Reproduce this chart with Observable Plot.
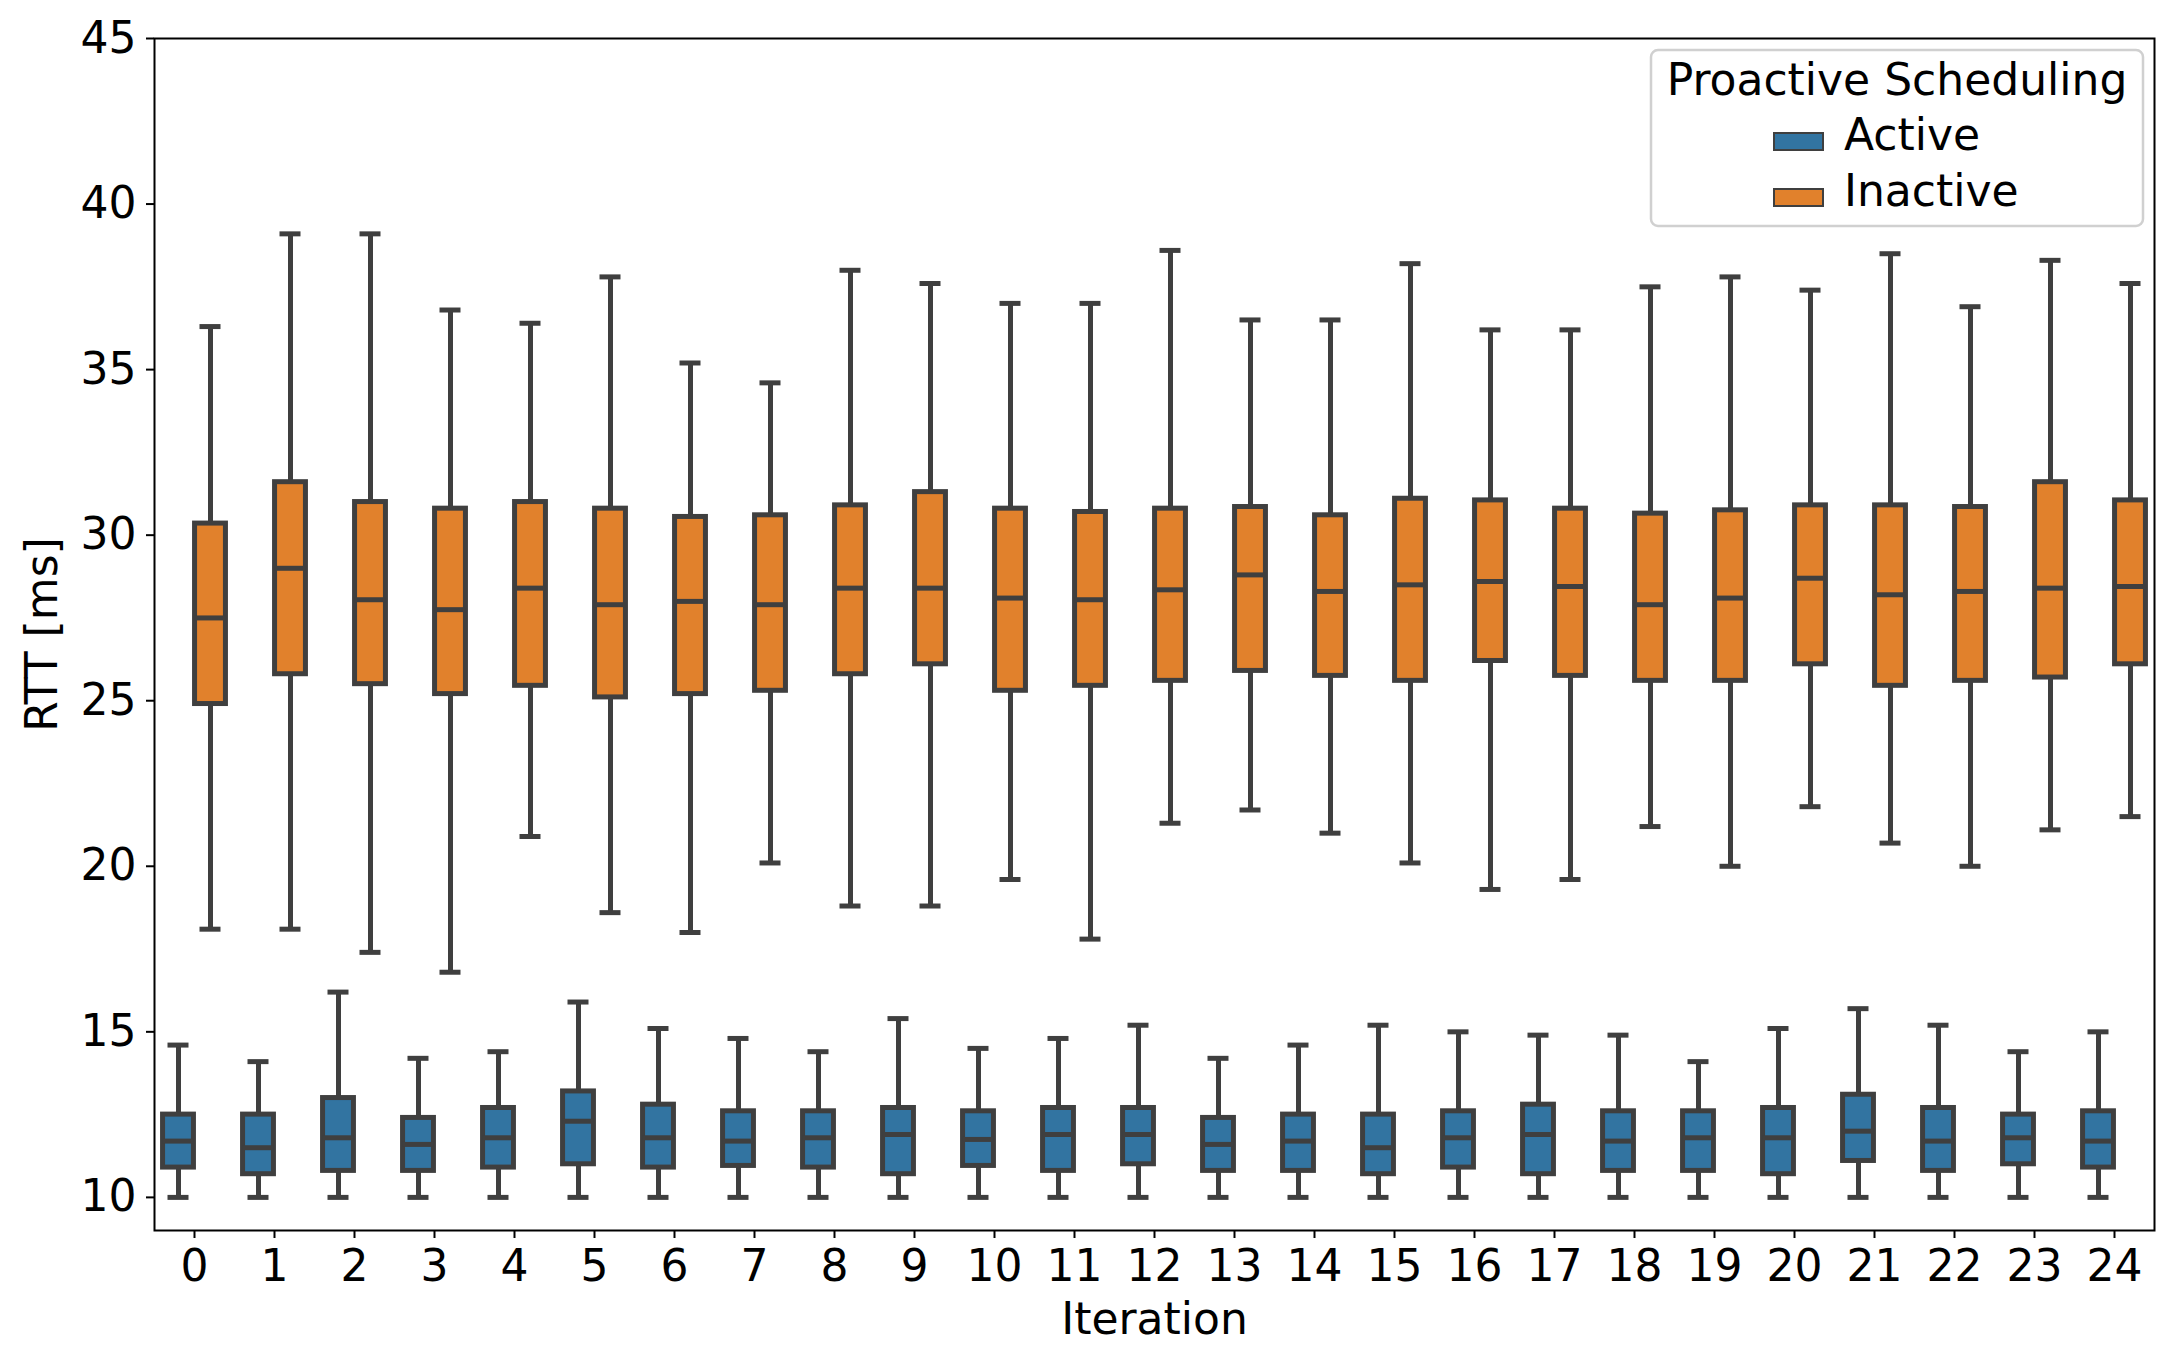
<!DOCTYPE html>
<html>
<head>
<meta charset="utf-8">
<script src="https://cdn.jsdelivr.net/npm/d3@7"></script>
<script src="https://cdn.jsdelivr.net/npm/@observablehq/plot@0.6"></script>
<style>
  html, body { margin: 0; padding: 0; background: #fff; }
  #chart { position: relative; width: 2174px; height: 1361px; }
</style>
</head>
<body>
<div id="chart"></div>
<script>
// ---- data ----
const iterations = [0,1,2,3,4,5,6,7,8,9,10,11,12,13,14,15,16,17,18,19,20,21,22,23,24];
const statuses = ["Active", "Inactive"];

const activeHi  = [14.6,14.1,16.2,14.2,14.4,15.9,15.1,14.8,14.4,15.4,14.5,14.8,15.2,14.2,14.6,15.2,15.0,14.9,14.9,14.1,15.1,15.7,15.2,14.4,15.0];
const activeQ3  = [12.5,12.5,13.0,12.4,12.7,13.2,12.8,12.6,12.6,12.7,12.6,12.7,12.7,12.4,12.5,12.5,12.6,12.8,12.6,12.6,12.7,13.1,12.7,12.5,12.6];
const activeMed = [11.7,11.5,11.8,11.6,11.8,12.3,11.8,11.7,11.8,11.9,11.75,11.9,11.9,11.6,11.7,11.5,11.8,11.9,11.7,11.8,11.8,12.0,11.7,11.8,11.7];
const activeQ1  = [10.9,10.7,10.8,10.8,10.9,11.0,10.9,10.95,10.9,10.7,10.95,10.8,11.0,10.8,10.8,10.7,10.9,10.7,10.8,10.8,10.7,11.1,10.8,11.0,10.9];
const activeLo  = [10,10,10,10,10,10,10,10,10,10,10,10,10,10,10,10,10,10,10,10,10,10,10,10,10];

const inactiveHi  = [36.3,39.1,39.1,36.8,36.4,37.8,35.2,34.6,38.0,37.6,37.0,37.0,38.6,36.5,36.5,38.2,36.2,36.2,37.5,37.8,37.4,38.5,36.9,38.3,37.6];
const inactiveQ3  = [30.35,31.6,31.0,30.8,31.0,30.8,30.55,30.6,30.9,31.3,30.8,30.7,30.8,30.85,30.6,31.1,31.05,30.8,30.65,30.75,30.9,30.9,30.85,31.6,31.05];
const inactiveMed = [27.5,29.0,28.05,27.75,28.4,27.9,28.0,27.9,28.4,28.4,28.1,28.05,28.35,28.8,28.3,28.5,28.6,28.45,27.9,28.1,28.7,28.2,28.3,28.4,28.45];
const inactiveQ1  = [24.9,25.8,25.5,25.2,25.45,25.1,25.2,25.3,25.8,26.1,25.3,25.45,25.6,25.9,25.75,25.6,26.2,25.75,25.6,25.6,26.1,25.45,25.6,25.7,26.1];
const inactiveLo  = [18.1,18.1,17.4,16.8,20.9,18.6,18.0,20.1,18.8,18.8,19.6,17.8,21.3,21.7,21.0,20.1,19.3,19.6,21.2,20.0,21.8,20.7,20.0,21.1,21.5];

const yTicks = [10,15,20,25,30,35,40,45];

// ---- styles ----
const colors = ["#3274a1", "#e1812c"];
const lineColor = "#3f3f3f";
const dodge = {Active: -0.2, Inactive: 0.2};
const boxHalf = 0.193;
const capHalf = 0.1;
const lw = 5;
const font = "DejaVu Sans";

// ---- table built from the arrays ----
const rows = [];
iterations.forEach((it, i) => {
  rows.push({iteration: it, status: "Active", lo: activeLo[i], q1: activeQ1[i], med: activeMed[i], q3: activeQ3[i], hi: activeHi[i]});
  rows.push({iteration: it, status: "Inactive", lo: inactiveLo[i], q1: inactiveQ1[i], med: inactiveMed[i], q3: inactiveQ3[i], hi: inactiveHi[i]});
});
const cx = d => d.iteration + dodge[d.status];

const chart = Plot.plot({
  width: 2174,
  height: 1361,
  marginLeft: 154,
  marginRight: 20,
  marginTop: 38,
  marginBottom: 131,
  style: {fontFamily: font, fontSize: "44px", color: "black", background: "white"},
  x: {type: "linear", domain: [-0.5, 24.5]},
  y: {domain: [9, 45]},
  color: {domain: statuses, range: colors},
  marks: [
    // whiskers
    Plot.ruleX(rows, {x: cx, y1: "lo", y2: "q1", stroke: lineColor, strokeWidth: lw}),
    Plot.ruleX(rows, {x: cx, y1: "q3", y2: "hi", stroke: lineColor, strokeWidth: lw}),
    // caps
    Plot.ruleY(rows, {y: "lo", x1: d => cx(d) - capHalf, x2: d => cx(d) + capHalf, stroke: lineColor, strokeWidth: lw, strokeLinecap: "square"}),
    Plot.ruleY(rows, {y: "hi", x1: d => cx(d) - capHalf, x2: d => cx(d) + capHalf, stroke: lineColor, strokeWidth: lw, strokeLinecap: "square"}),
    // boxes
    Plot.rect(rows, {x1: d => cx(d) - boxHalf, x2: d => cx(d) + boxHalf, y1: "q1", y2: "q3", fill: "status", stroke: lineColor, strokeWidth: lw}),
    // medians
    Plot.ruleY(rows, {y: "med", x1: d => cx(d) - boxHalf, x2: d => cx(d) + boxHalf, stroke: lineColor, strokeWidth: lw}),
    // axes
    Plot.axisX({ticks: iterations, tickFormat: d => String(d), tickSize: 8, tickPadding: 11, strokeWidth: 2, label: null, fontSize: 44}),
    Plot.axisY({ticks: yTicks, tickFormat: d => String(d), tickSize: 8, tickPadding: 10, strokeWidth: 2, label: null, fontSize: 44}),
    Plot.frame({stroke: "black", strokeWidth: 2}),
    // axis titles
    Plot.text(["RTT [ms]"], {frameAnchor: "left", textAnchor: "middle", dx: -112, rotate: -90, fontSize: 44, fill: "black"}),
    Plot.text(["Iteration"], {frameAnchor: "bottom", textAnchor: "middle", lineAnchor: "bottom", dy: 103, fontSize: 44, fill: "black"})
  ]
});

document.getElementById("chart").appendChild(chart);

// ---- legend (inside the plot, upper right) ----
const svg = d3.select(chart);
const lg = svg.append("g").attr("font-family", font).attr("font-size", 44);
lg.append("rect")
  .attr("x", 1651).attr("y", 50).attr("width", 492).attr("height", 176)
  .attr("rx", 7).attr("fill", "white").attr("fill-opacity", 0.8)
  .attr("stroke", "#d0d0d0").attr("stroke-width", 2.5);
lg.append("text").attr("x", 1897).attr("y", 95).attr("text-anchor", "middle").attr("fill", "black").text("Proactive Scheduling");
statuses.forEach((s, i) => {
  lg.append("rect")
    .attr("x", 1774).attr("y", 133 + i * 56).attr("width", 49).attr("height", 17)
    .attr("fill", colors[i]).attr("stroke", lineColor).attr("stroke-width", 2);
  lg.append("text").attr("x", 1844).attr("y", 150 + i * 56).attr("text-anchor", "start").attr("fill", "black").text(s);
});
</script>
</body>
</html>
